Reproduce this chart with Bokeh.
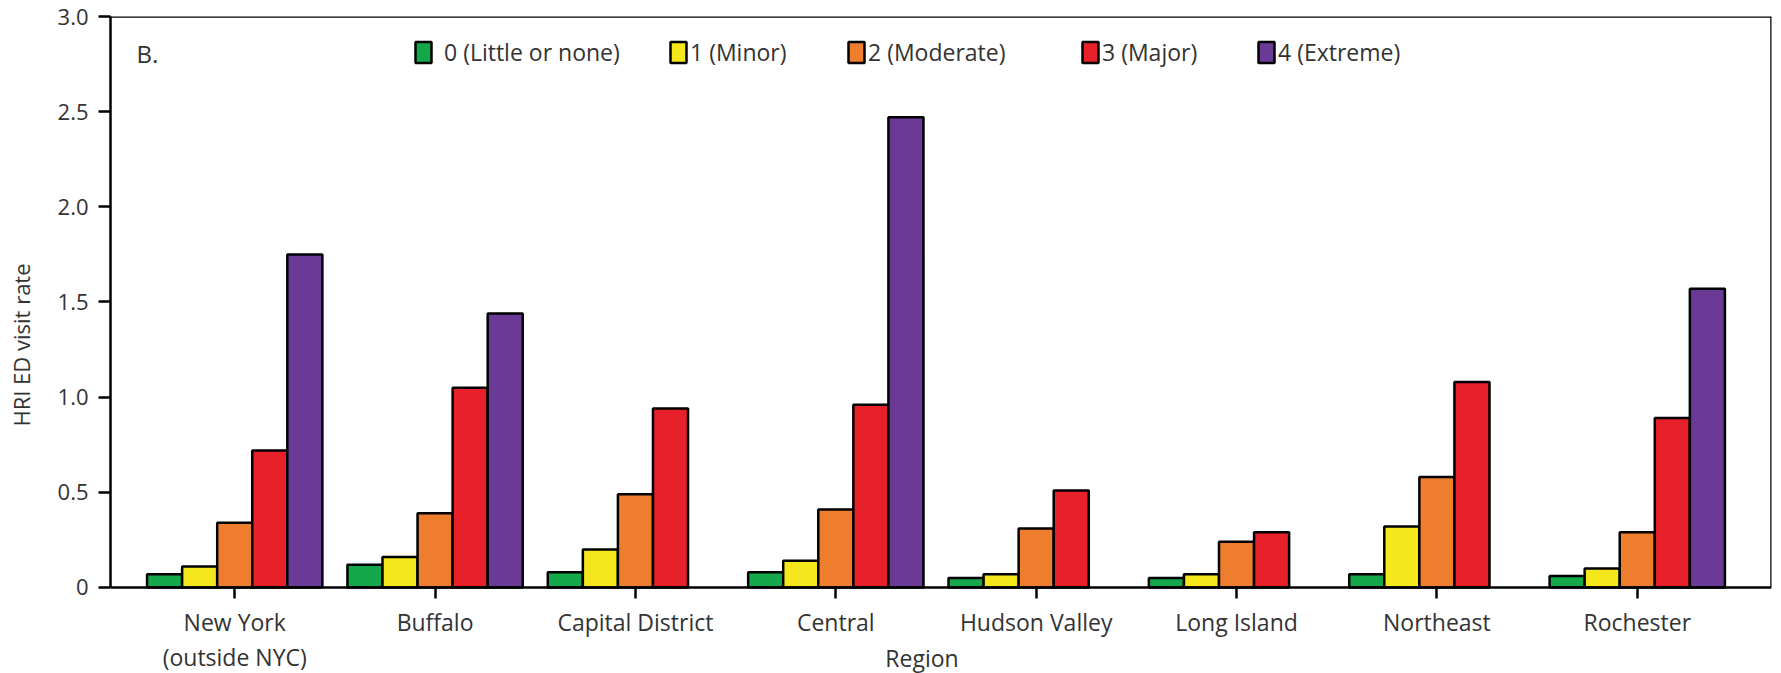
import numpy as np
from bokeh.plotting import figure
from bokeh.models import (Range1d, FixedTicker, Legend, LegendItem, Label, ColumnDataSource,
                          LinearAxis)
from bokeh.embed import file_html
from bokeh.resources import INLINE

nan = float("nan")

regions = ["New York\n(outside NYC)", "Buffalo", "Capital District", "Central",
           "Hudson Valley", "Long Island", "Northeast", "Rochester"]
levels = ["0 (Little or none)", "1 (Minor)", "2 (Moderate)", "3 (Major)", "4 (Extreme)"]
colors = ["#14a84b", "#f4e71c", "#ee7d2e", "#e8202a", "#6b3996"]

level0 = [0.07, 0.12, 0.08, 0.08, 0.05, 0.05, 0.07, 0.06]
level1 = [0.11, 0.16, 0.20, 0.14, 0.07, 0.07, 0.32, 0.10]
level2 = [0.34, 0.39, 0.49, 0.41, 0.31, 0.24, 0.58, 0.29]
level3 = [0.72, 1.05, 0.94, 0.96, 0.51, 0.29, 1.08, 0.89]
level4 = [1.75, 1.44, nan, 2.47, nan, nan, nan, 1.57]
series = [level0, level1, level2, level3, level4]

y_ticks = [0, 0.5, 1.0, 1.5, 2.0, 2.5, 3.0]
y_tick_labels = ["0", "0.5", "1.0", "1.5", "2.0", "2.5", "3.0"]

FONT = "Open Sans"
TXT = "#333333"

X_LO, X_HI = -0.62, 7.67
Y_LO, Y_HI = -0.452, 3.0   # the area below 0 holds the category labels

p = figure(width=1781, height=673, output_backend="svg", toolbar_location=None,
           x_range=Range1d(X_LO, X_HI), y_range=Range1d(Y_LO, Y_HI),
           min_border_left=110, min_border_right=10, min_border_top=16, min_border_bottom=0)
p.background_fill_color = "white"
p.border_fill_color = "white"
p.outline_line_color = None
p.xgrid.visible = False
p.ygrid.visible = False

bw = 0.175
idx = np.arange(len(regions))
renderers = []
for k, (vals, col) in enumerate(zip(series, colors)):
    src = ColumnDataSource(dict(x=idx + (k - 2) * bw, top=vals))
    r = p.vbar(x="x", top="top", width=bw, bottom=0, source=src,
               fill_color=col, line_color="black", line_width=2.5)
    renderers.append(r)

# x axis drawn at y = 0
xa = p.xaxis[0]
xa.fixed_location = 0
xa.ticker = FixedTicker(ticks=list(idx))
xa.major_label_overrides = {int(i): regions[i] for i in idx}
ya = p.yaxis[0]
ya.ticker = FixedTicker(ticks=y_ticks)
ya.major_label_overrides = {t: s for t, s in zip(y_ticks, y_tick_labels)}
ya.bounds = (0, Y_HI)
for ax in (xa, ya):
    ax.axis_line_color = "black"
    ax.axis_line_width = 2.5
    ax.major_tick_line_color = "black"
    ax.major_tick_line_width = 2.5
    ax.major_tick_in = 0
    ax.minor_tick_line_color = None
    ax.major_label_text_font = FONT
    ax.major_label_text_color = TXT
xa.major_tick_out = 11
xa.major_label_text_font_size = "23px"
xa.major_label_text_line_height = 1.07
xa.major_label_standoff = 8

ya.major_tick_out = 12
ya.major_label_text_font_size = "22px"
ya.major_label_standoff = 10
ya.axis_label = "HRI ED visit rate"
ya.axis_label_text_font = FONT
ya.axis_label_text_font_size = "22px"
ya.axis_label_text_font_style = "normal"
ya.axis_label_text_color = TXT
ya.axis_label_standoff = 19

# closing lines of the box (top and right), as bare axes
top_ax = LinearAxis(fixed_location=Y_HI, ticker=FixedTicker(ticks=[]),
                    axis_line_color="black", axis_line_width=2.5,
                    major_tick_line_color=None, minor_tick_line_color=None,
                    major_label_text_alpha=0)
p.add_layout(top_ax, "above")
right_ax = LinearAxis(fixed_location=X_HI, ticker=FixedTicker(ticks=[]), bounds=(0, Y_HI),
                      axis_line_color="black", axis_line_width=2.5,
                      major_tick_line_color=None, minor_tick_line_color=None,
                      major_label_text_alpha=0)
p.add_layout(right_ax, "right")

# x-axis title
p.add_layout(Label(x=3.43, y=-0.368, text="Region", text_font=FONT, text_font_size="23px",
                   text_color=TXT, text_align="center", text_baseline="middle"))

# panel letter
p.add_layout(Label(x=-0.49, y=2.806, text="B.", text_font=FONT, text_font_size="24px",
                   text_color=TXT, text_align="left", text_baseline="middle"))

# legend: one legend per entry, placed across the top
leg_x = [303, 558, 736, 970, 1146]
leg_standoff = [11, 2, 2, 2, 2]
for lab, r, lx, so in zip(levels, renderers, leg_x, leg_standoff):
    lg = Legend(items=[LegendItem(label=lab, renderers=[r])], location=(lx, 605),
                orientation="horizontal", padding=0, margin=0, spacing=0,
                glyph_width=20, glyph_height=26, label_standoff=so,
                label_text_font=FONT, label_text_font_size="23px", label_text_color=TXT,
                background_fill_alpha=0, border_line_alpha=0)
    p.add_layout(lg)

open("out.html", "w").write(file_html(p, INLINE))
